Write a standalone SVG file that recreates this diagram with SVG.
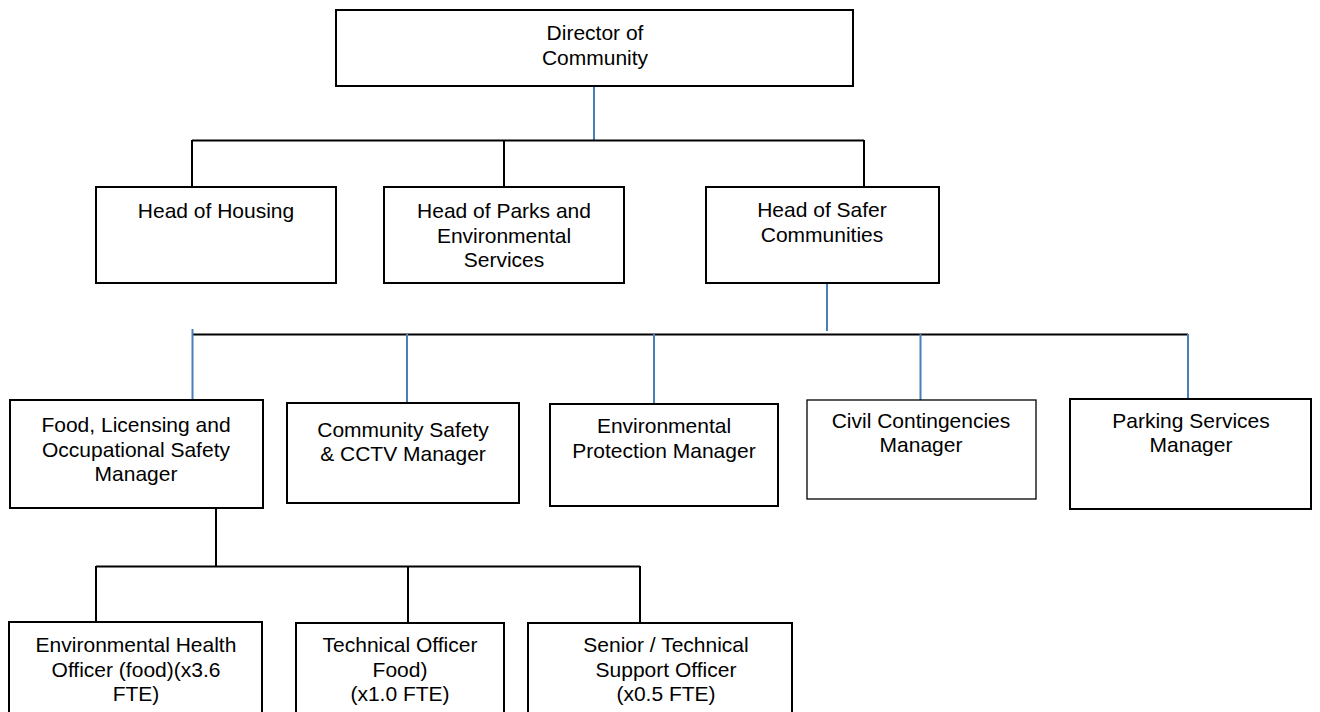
<svg xmlns="http://www.w3.org/2000/svg" width="1320" height="712" viewBox="0 0 1320 712">
<style>
.box{fill:#fff;stroke:#000;stroke-width:2}
.thin{stroke-width:1.3}
.blk{stroke:#000;stroke-width:2;fill:none}
.blu{stroke:#4a7ebb;stroke-width:2;fill:none}
text{font-family:"Liberation Sans",Arial,sans-serif;font-size:21px;fill:#000;text-anchor:middle}
</style>
<rect width="1320" height="712" fill="#fff"/>
<g id="connectors">
<path class="blu" d="M594 86V140"/>
<path class="blk" d="M192 140.5H864M192 140V187M504 140V187M864 140V187"/>
<path class="blu" d="M827 283V331"/>
<path class="blk" d="M193 334.5H1188"/>
<path class="blu" d="M192.5 329V400M407 334V403M654 334V404M920.5 334V400M1188 334V399"/>
<path class="blk" d="M216 504V567M96 566.5H640M96 566V622M408 566V623M640 566V623"/>
</g>
<g id="director"><rect class="box" x="336" y="10" width="517" height="76"/><text x="595" y="40">Director of</text><text x="595" y="65">Community</text></g>
<g id="housing"><rect class="box" x="96" y="187" width="240" height="96"/><text x="216" y="218">Head of Housing</text></g>
<g id="parks"><rect class="box" x="384" y="187" width="240" height="96"/><text x="504" y="218">Head of Parks and</text><text x="504" y="243">Environmental</text><text x="504" y="267">Services</text></g>
<g id="safer"><rect class="box" x="706" y="187" width="233" height="96"/><text x="822" y="217">Head of Safer</text><text x="822" y="242">Communities</text></g>
<g id="food"><rect class="box" x="10" y="400" width="253" height="108"/><text x="136" y="432">Food, Licensing and</text><text x="136" y="457">Occupational Safety</text><text x="136" y="481">Manager</text></g>
<g id="cctv"><rect class="box" x="287" y="403" width="232" height="100"/><text x="403" y="437">Community Safety</text><text x="403" y="461">&amp; CCTV Manager</text></g>
<g id="envprot"><rect class="box" x="550" y="404" width="228" height="102"/><text x="664" y="433">Environmental</text><text x="664" y="458">Protection Manager</text></g>
<g id="civil"><rect class="box thin" x="807" y="400" width="229" height="99"/><text x="921" y="428">Civil Contingencies</text><text x="921" y="452">Manager</text></g>
<g id="parking"><rect class="box" x="1070" y="399" width="241" height="110"/><text x="1191" y="428">Parking Services</text><text x="1191" y="452">Manager</text></g>
<g id="eho"><rect class="box" x="9" y="622" width="253" height="100"/><text x="136" y="652">Environmental Health</text><text x="136" y="677">Officer (food)(x3.6</text><text x="136" y="701">FTE)</text></g>
<g id="tech"><rect class="box" x="296" y="623" width="208" height="100"/><text x="400" y="652">Technical Officer</text><text x="400" y="677">Food)</text><text x="400" y="701">(x1.0 FTE)</text></g>
<g id="senior"><rect class="box" x="528" y="623" width="264" height="100"/><text x="666" y="652">Senior / Technical</text><text x="666" y="677">Support Officer</text><text x="666" y="701">(x0.5 FTE)</text></g>
</svg>
